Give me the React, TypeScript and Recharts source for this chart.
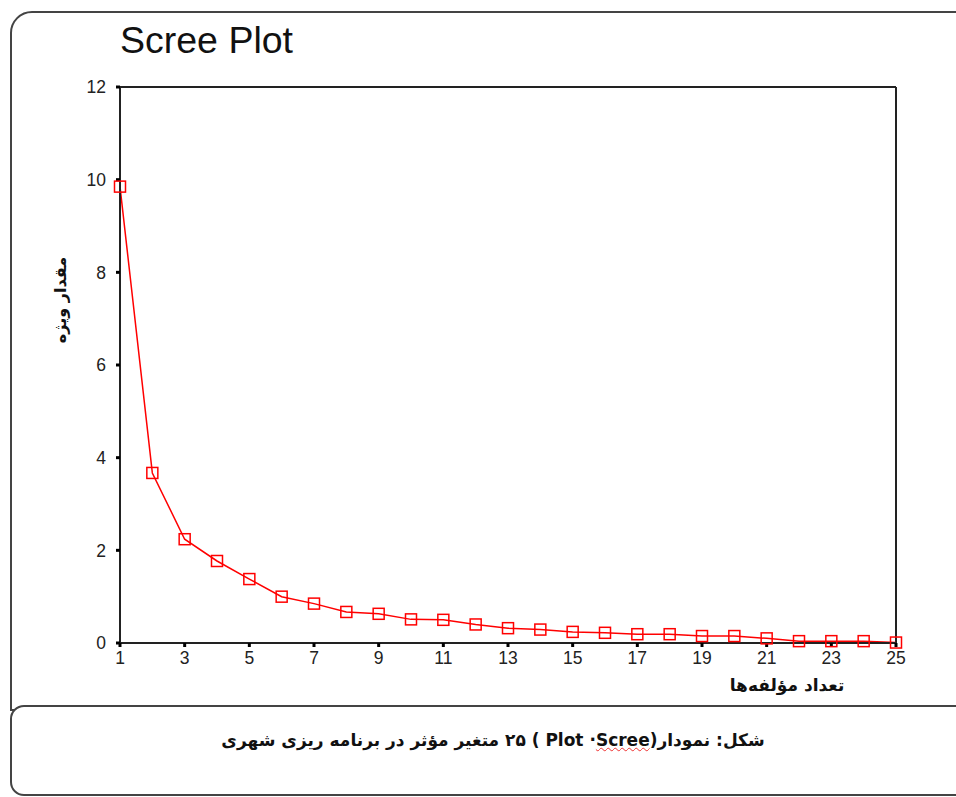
import React from "react";
import { LineChart, Line, XAxis, YAxis, ReferenceLine } from "recharts";

// eigenvalues
const components = [1, 2, 3, 4, 5, 6, 7, 8, 9, 10, 11, 12, 13, 14, 15, 16, 17, 18, 19, 20, 21, 22, 23, 24, 25];
const eigenvalues = [
  9.85, 3.67, 2.24, 1.77, 1.38, 1.0, 0.85, 0.67, 0.63, 0.51, 0.5, 0.4, 0.32,
  0.29, 0.24, 0.22, 0.19, 0.19, 0.15, 0.15, 0.1, 0.04, 0.04, 0.04, 0.01,
];
const xTicks = [1, 3, 5, 7, 9, 11, 13, 15, 17, 19, 21, 23, 25];
const yTicks = [0, 2, 4, 6, 8, 10, 12];

const data = components.map((c, i) => ({ comp: c, value: eigenvalues[i] }));

const tickStyle = { fill: "#222", fontSize: 17.5, fontFamily: "Liberation Sans, Arial, sans-serif" };
const faFont = "DejaVu Sans, Noto Sans, sans-serif";

function SquareDot(props: any) {
  const { cx, cy, index } = props;
  if (cx == null || cy == null) return null;
  return (
    <rect
      key={index}
      x={cx - 5.5}
      y={cy - 5.5}
      width={11}
      height={11}
      fill="none"
      stroke="#ff0000"
      strokeWidth={1.5}
    />
  );
}

export default function App() {
  return (
    <div
      style={{
        position: "absolute",
        left: 0,
        top: 0,
        width: 956,
        height: 797,
        overflow: "hidden",
        background: "#fff",
      }}
    >
      {/* document frame */}
      <div
        style={{
          position: "absolute",
          left: 10,
          top: 11,
          width: 980,
          height: 700,
          border: "2px solid #444",
          borderTopLeftRadius: 22,
          boxSizing: "border-box",
        }}
      />
      <div
        style={{
          position: "absolute",
          left: 10,
          top: 705,
          width: 980,
          height: 91,
          border: "2px solid #444",
          borderRadius: 14,
          boxSizing: "border-box",
          background: "#fff",
        }}
      />

      <div
        style={{
          position: "absolute",
          left: 120,
          top: 22,
          fontSize: 37.5,
          lineHeight: "37px",
          fontFamily: "Liberation Sans, Arial, sans-serif",
          color: "#111",
        }}
      >
        Scree Plot
      </div>

      <div style={{ position: "absolute", left: 0, top: 0 }}>
        <LineChart
          width={956}
          height={797}
          data={data}
          margin={{ top: 87, right: 60, left: 70, bottom: 124 }}
        >
          <XAxis
            dataKey="comp"
            type="number"
            domain={[1, 25]}
            ticks={xTicks}
            interval={0}
            tick={tickStyle}
            tickSize={4}
            tickMargin={5}
            height={30}
            axisLine={{ stroke: "#222", strokeWidth: 2 }}
            tickLine={{ stroke: "#000", strokeWidth: 3 }}
          />
          <YAxis
            type="number"
            domain={[0, 12]}
            ticks={yTicks}
            interval={0}
            tick={tickStyle}
            tickSize={4}
            tickMargin={10}
            width={50}
            axisLine={{ stroke: "#222", strokeWidth: 2 }}
            tickLine={{ stroke: "#000", strokeWidth: 3 }}
          />
          {/* plot frame: top and right edges */}
          <ReferenceLine y={12} stroke="#222" strokeWidth={2} />
          <ReferenceLine x={25} stroke="#222" strokeWidth={2} />
          <Line
            dataKey="value"
            stroke="#ff0000"
            strokeWidth={1.5}
            dot={<SquareDot />}
            activeDot={false}
            isAnimationActive={false}
          />
        </LineChart>
      </div>

      {/* axis titles */}
      <div
        style={{
          position: "absolute",
          left: 60,
          top: 300,
          transform: "translate(-50%, -50%) rotate(-90deg)",
          whiteSpace: "nowrap",
          direction: "rtl",
          fontFamily: faFont,
          fontWeight: "bold",
          fontSize: 16,
          color: "#111",
        }}
      >
        مقدار ویژه
      </div>
      <div
        style={{
          position: "absolute",
          left: 787,
          top: 685,
          transform: "translate(-50%, -50%)",
          whiteSpace: "nowrap",
          direction: "rtl",
          fontFamily: faFont,
          fontWeight: "bold",
          fontSize: 17,
          color: "#111",
        }}
      >
        تعداد مؤلفه‌ها
      </div>

      {/* caption */}
      <div
        style={{
          position: "absolute",
          left: 493,
          top: 740,
          transform: "translate(-50%, -50%)",
          whiteSpace: "nowrap",
          direction: "rtl",
          fontFamily: faFont,
          fontWeight: "bold",
          fontSize: 17,
          color: "#111",
        }}
      >
        شکل: نمودار(
        <span style={{ textDecoration: "underline wavy #e33", textDecorationThickness: 1 }}>Scree</span>
        {"\u200F· Plot"} ) ۲۵ متغیر مؤثر در برنامه ریزی شهری
      </div>
    </div>
  );
}
